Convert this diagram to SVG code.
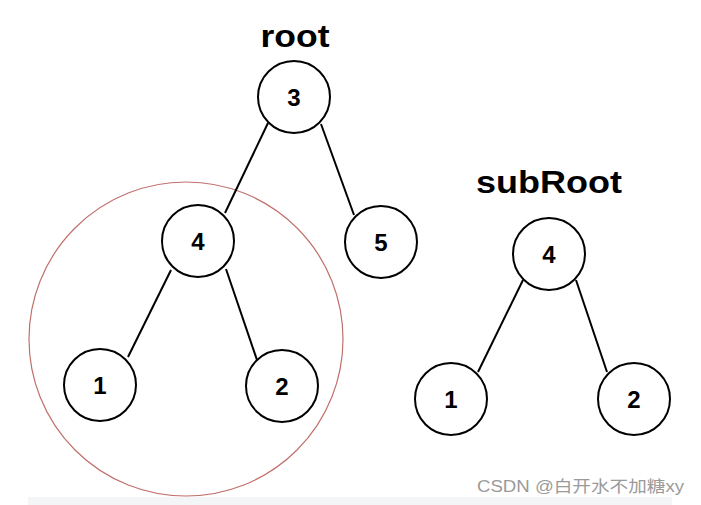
<svg xmlns="http://www.w3.org/2000/svg" width="701" height="505" viewBox="0 0 701 505">
<style>
.node circle{fill:#fff;stroke:#000;stroke-width:2}
.node text{font-family:"Liberation Sans",Arial,sans-serif;font-weight:bold;font-size:24px;text-anchor:middle;fill:#000}
.lbl{font-family:"Liberation Sans",Arial,sans-serif;font-weight:bold;font-size:31px;text-anchor:middle;fill:#000}
#edges line{stroke:#000;stroke-width:2}
</style>
<rect width="701" height="505" fill="#fff"/>
<rect x="28" y="497" width="644" height="8" fill="#f4f5f7"/>
<circle id="highlight" cx="186" cy="339" r="157" fill="none" stroke="#c0706c" stroke-width="1.2"/>
<text class="lbl" x="295" y="47" textLength="69" lengthAdjust="spacingAndGlyphs">root</text>
<text class="lbl" x="549" y="193" textLength="146" lengthAdjust="spacingAndGlyphs">subRoot</text>
<g id="edges">
<line x1="268" y1="123" x2="225" y2="213"/>
<line x1="321" y1="124" x2="354" y2="215"/>
<line x1="171" y1="270" x2="128" y2="357"/>
<line x1="226" y1="269" x2="257" y2="360"/>
<line x1="523" y1="280" x2="478" y2="372"/>
<line x1="576" y1="280" x2="607" y2="372"/>
</g>
<g id="n3" class="node"><circle cx="294" cy="97" r="36"/><text x="294" y="106">3</text></g>
<g id="n4" class="node"><circle cx="198" cy="241" r="36"/><text x="198" y="250">4</text></g>
<g id="n5" class="node"><circle cx="381" cy="242" r="36"/><text x="381" y="251">5</text></g>
<g id="n1" class="node"><circle cx="100" cy="385" r="36"/><text x="100" y="394">1</text></g>
<g id="n2" class="node"><circle cx="282" cy="386" r="36"/><text x="282" y="395">2</text></g>
<g id="s4" class="node"><circle cx="549" cy="254" r="36"/><text x="549" y="263">4</text></g>
<g id="s1" class="node"><circle cx="451" cy="399" r="36"/><text x="451" y="408">1</text></g>
<g id="s2" class="node"><circle cx="634" cy="399" r="36"/><text x="634" y="408">2</text></g>
<text x="477" y="492" font-family="'Liberation Sans','Noto Sans CJK SC',sans-serif" font-size="16" fill="#9a9a9a" textLength="207" lengthAdjust="spacingAndGlyphs">CSDN @白开水不加糖xy</text>
</svg>
